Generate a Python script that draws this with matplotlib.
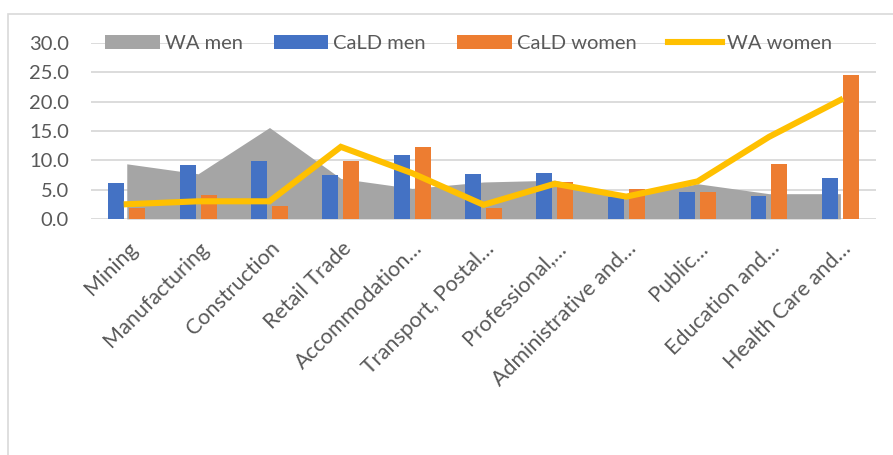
import matplotlib.pyplot as plt
import numpy as np
from matplotlib.patches import Rectangle

GRID = "#d9d9d9"
TEXT = "#595959"
FONT = "Lato"

categories = ["Mining", "Manufacturing", "Construction", "Retail Trade",
              "Accommodation…", "Transport, Postal…", "Professional,…",
              "Administrative and…", "Public…", "Education and…",
              "Health Care and…"]
wa_men = [9.4, 7.7, 15.6, 6.9, 5.2, 6.3, 6.6, 3.7, 6.0, 4.3, 4.3]
cald_men = [6.2, 9.2, 9.8, 7.5, 10.9, 7.6, 7.9, 3.8, 4.6, 3.9, 6.9]
cald_women = [1.9, 4.0, 2.2, 9.8, 12.2, 1.9, 6.3, 5.1, 4.6, 9.4, 24.5]
wa_women = [2.5, 3.0, 3.0, 12.3, 7.8, 2.4, 6.0, 3.8, 6.4, 14.0, 20.3]

plt.rcParams["font.family"] = [FONT, "DejaVu Sans"]

fig = plt.figure(figsize=(8.93, 4.55), dpi=100, facecolor="white")
ax = fig.add_axes([0.102, 0.519, 0.879, 0.386])

# chart border (runs off the right and bottom edges like the source)
fig.patches.append(Rectangle((8 / 893, -0.05), 1.0, 1 - 14 / 455 + 0.05,
                             transform=fig.transFigure, fill=False,
                             edgecolor=GRID, linewidth=1.2))

x = np.arange(len(categories))
w = 0.224
off = 0.147

area = ax.fill_between(x, 0, wa_men, color="#a5a5a5", linewidth=0, zorder=2, label="WA men")
b1 = ax.bar(x - off, cald_men, w, color="#4472c4", zorder=3, label="CaLD men")
b2 = ax.bar(x + off, cald_women, w, color="#ed7d31", zorder=3, label="CaLD women")
ln, = ax.plot(x, wa_women, color="#ffc000", linewidth=4.4, solid_joinstyle="miter",
              zorder=4, label="WA women")

ax.set_xlim(-0.5, len(categories) - 0.5)
ax.set_ylim(0, 30)
ax.set_yticks(np.arange(0, 31, 5))
ax.set_yticklabels([f"{v:.1f}" for v in np.arange(0, 31, 5)])
ax.set_xticks(x)
ax.set_xticklabels(categories, rotation=45, ha="right", va="top", rotation_mode="anchor")

ax.grid(axis="y", color=GRID, linewidth=1.3, zorder=0)
ax.set_axisbelow(True)
for s in ax.spines.values():
    s.set_visible(False)
ax.tick_params(axis="y", length=0, pad=16, labelsize=14.5, labelcolor=TEXT)
ax.tick_params(axis="x", length=0, pad=14, labelsize=15.5, labelcolor=TEXT)

ax.legend([area, b1, b2, ln], ["WA men", "CaLD men", "CaLD women", "WA women"],
          loc="center", bbox_to_anchor=(0.481, 1.0), ncol=4, frameon=False,
          fontsize=14.5, labelcolor=TEXT, handlelength=2.7, handletextpad=0.25,
          columnspacing=1.55, borderaxespad=0)

fig.savefig("out.png", dpi=100, facecolor="white")
